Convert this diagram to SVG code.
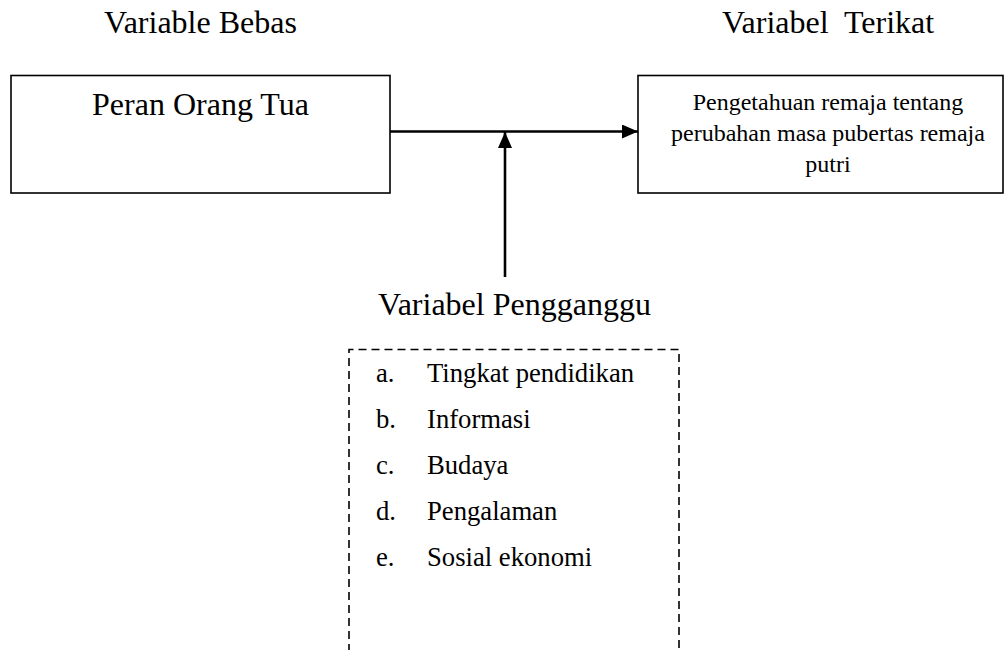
<svg xmlns="http://www.w3.org/2000/svg" width="1005" height="650" viewBox="0 0 1005 650">
<style>
text { font-family: "Liberation Serif", "Times New Roman", serif; fill: #000; }
.title { font-size: 32px; white-space: pre; }
.small { font-size: 24px; }
.item { font-size: 26.67px; }
.box { fill: #fff; stroke: #000; stroke-width: 1.6; }
.dash { fill: none; stroke: #000; stroke-width: 1.6; stroke-dasharray: 8 5; }
.conn { stroke: #000; stroke-width: 2.6; fill: none; }
</style>
<defs>
<marker id="arrow" viewBox="0 0 16 14" refX="16" refY="7" markerWidth="16" markerHeight="14" markerUnits="userSpaceOnUse" orient="auto">
<path d="M0,0 L16,7 L0,14 Z" fill="#000"/>
</marker>
</defs>
<g id="label-bebas"><text class="title" x="200.5" y="33" text-anchor="middle">Variable Bebas</text></g>
<g id="label-terikat"><text class="title" x="722" y="33">Variabel  Terikat</text></g>
<g id="node-peran">
<rect class="box" x="11" y="75.5" width="379" height="117.5"/>
<text class="title" x="200.5" y="115" text-anchor="middle">Peran Orang Tua</text>
</g>
<g id="node-pengetahuan">
<rect class="box" x="638" y="75.5" width="365" height="117.5"/>
<text class="small" x="828" y="110" text-anchor="middle">Pengetahuan remaja tentang</text>
<text class="small" x="828" y="141" text-anchor="middle">perubahan masa pubertas remaja</text>
<text class="small" x="828" y="172" text-anchor="middle">putri</text>
</g>
<g id="node-pengganggu">
<text class="title" x="514.5" y="315" text-anchor="middle">Variabel Pengganggu</text>
<path class="dash" d="M349,652 L349,349.5 L679,349.5 L679,652"/>
<text class="item" x="376" y="382">a.</text><text class="item" x="427" y="382">Tingkat pendidikan</text>
<text class="item" x="376" y="428">b.</text><text class="item" x="427" y="428">Informasi</text>
<text class="item" x="376" y="474">c.</text><text class="item" x="427" y="474">Budaya</text>
<text class="item" x="376" y="520">d.</text><text class="item" x="427" y="520">Pengalaman</text>
<text class="item" x="376" y="566">e.</text><text class="item" x="427" y="566">Sosial ekonomi</text>
</g>
<g id="connectors">
<line class="conn" x1="390" y1="131.5" x2="638" y2="131.5" marker-end="url(#arrow)"/>
<line class="conn" x1="505" y1="277" x2="505" y2="132" marker-end="url(#arrow)"/>
</g>
</svg>
